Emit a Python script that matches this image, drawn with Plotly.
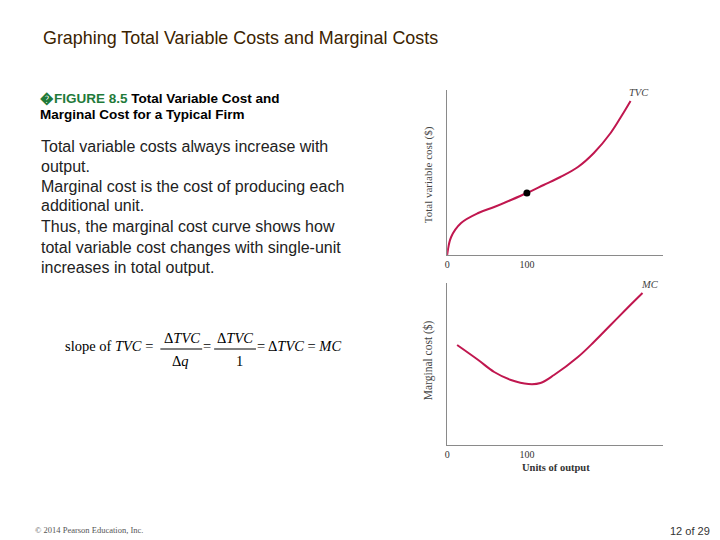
import plotly.graph_objects as go

# Data
tvc_q = [0, 5, 17.5, 39, 59, 80, 100, 121, 142, 164, 184, 205, 221, 230]
tvc_v = [0, 18, 32, 42, 48, 55, 62, 70, 78, 88, 102, 122, 142, 154]
mc_q = [12.5, 39, 59, 80, 102, 117, 134, 164, 184, 205, 226, 245]
mc_v = [100, 85, 73, 65, 61, 62, 70, 88, 103, 120, 137, 152]
dot_q = [100]
dot_v = [62]
x_ticks = [0, 100]
x_tick_labels = ["0", "100"]

OFF = 8  # page body margin
W, H = 720 - OFF, 540 - OFF
def px(x):
    return (x - OFF) / W
def py(y):
    return 1 - (y - OFF) / H

CURVE = "#c0174f"
SERIF = "Liberation Serif, Times New Roman, serif"
SANS = "Liberation Sans, Arial, sans-serif"

fig = go.Figure()
fig.add_trace(go.Scatter(x=tvc_q, y=tvc_v, mode="lines", line=dict(color=CURVE, width=2, shape="spline"),
                         xaxis="x", yaxis="y", showlegend=False, hoverinfo="skip"))
fig.add_trace(go.Scatter(x=dot_q, y=dot_v, mode="markers", marker=dict(color="black", size=7),
                         xaxis="x", yaxis="y", showlegend=False, hoverinfo="skip"))
fig.add_trace(go.Scatter(x=mc_q, y=mc_v, mode="lines", line=dict(color=CURVE, width=2, shape="spline"),
                         xaxis="x2", yaxis="y2", showlegend=False, hoverinfo="skip"))

axis_common = dict(showgrid=False, zeroline=False, showline=True, linecolor="#8a8a8a", linewidth=1,
                   ticks="", fixedrange=True)
fig.update_layout(
    width=W, height=H, margin=dict(l=0, r=0, t=0, b=0),
    paper_bgcolor="white", plot_bgcolor="white",
    xaxis=dict(domain=[px(446), px(663)], range=[0, 271], anchor="y",
               tickvals=x_ticks, ticktext=x_tick_labels,
               tickfont=dict(family=SERIF, size=10, color="#333"), **axis_common),
    yaxis=dict(domain=[py(255), py(90)], range=[0, 165], anchor="x", showticklabels=False, **axis_common),
    xaxis2=dict(domain=[px(446), px(663)], range=[0, 271], anchor="y2",
                tickvals=x_ticks, ticktext=x_tick_labels,
                tickfont=dict(family=SERIF, size=10, color="#333"), **axis_common),
    yaxis2=dict(domain=[py(445), py(283)], range=[0, 162], anchor="x2", showticklabels=False, **axis_common),
)

ann = []
def text(x, y, s, size, family=SANS, color="black", xanchor="left", yanchor="middle", angle=0):
    ann.append(dict(x=px(x), y=py(y), xref="paper", yref="paper", text=s, showarrow=False,
                    xanchor=xanchor, yanchor=yanchor, textangle=angle,
                    font=dict(family=family, size=size, color=color)))

text(38, 38, "Graphing Total Variable Costs and Marginal Costs", 17.9, color="#3b2300")
text(35, 98, "<b><span style='color:#1f7a3a'>\ufffdFIGURE 8.5</span> Total Variable Cost and</b>", 13.5)
text(35, 115, "<b>Marginal Cost for a Typical Firm</b>", 13.5)

body = ["Total variable costs always increase with", "output.",
        "Marginal cost is the cost of producing each", "additional unit.",
        "Thus, the marginal cost curve shows how",
        "total variable cost changes with single-unit", "increases in total output."]
ys = [146, 166, 186, 206, 226, 247, 267]
for s, y in zip(body, ys):
    text(36, y, s, 16, color="#222")

# formula
text(60, 346, "slope of <i>TVC</i> =", 14.5, family=SERIF)
text(180, 338, "Δ<i>TVC</i>", 14.5, family=SERIF, xanchor="center")
text(178, 361, "Δ<i>q</i>", 14.5, family=SERIF, xanchor="center")
text(205, 346, "=", 14.5, family=SERIF, xanchor="center")
text(233, 338, "Δ<i>TVC</i>", 14.5, family=SERIF, xanchor="center")
text(237, 361, "1", 14.5, family=SERIF, xanchor="center")
text(253, 346, "= Δ<i>TVC</i> = <i>MC</i>", 14.5, family=SERIF)

# axis titles
text(427, 175, "Total variable cost ($)", 11, family=SERIF, color="#444", xanchor="center", angle=-90)
text(427, 360, "Marginal cost ($)", 11.5, family=SERIF, color="#444", xanchor="center", angle=-90)
text(555, 467, "<b>Units of output</b>", 10.5, family=SERIF, color="#333", xanchor="center")

# curve labels
ann.append(dict(x=240, y=163, xref="x", yref="y", text="<i>TVC</i>", showarrow=False,
                font=dict(family=SERIF, size=10.5, color="#444")))
ann.append(dict(x=255, y=161, xref="x2", yref="y2", text="<i>MC</i>", showarrow=False,
                font=dict(family=SERIF, size=10.5, color="#444")))

# footer
text(30, 530, "© 2014 Pearson Education, Inc.", 8.5, family=SERIF, color="#555")
text(712, 531, "12 of 29", 11, color="#333", xanchor="right")

fig.update_layout(annotations=ann, shapes=[
    dict(type="line", xref="paper", yref="paper", x0=px(158), x1=px(200), y0=py(349), y1=py(349),
         line=dict(color="black", width=1)),
    dict(type="line", xref="paper", yref="paper", x0=px(212), x1=px(254), y0=py(349), y1=py(349),
         line=dict(color="black", width=1)),
])

fig.write_html("out.html")
